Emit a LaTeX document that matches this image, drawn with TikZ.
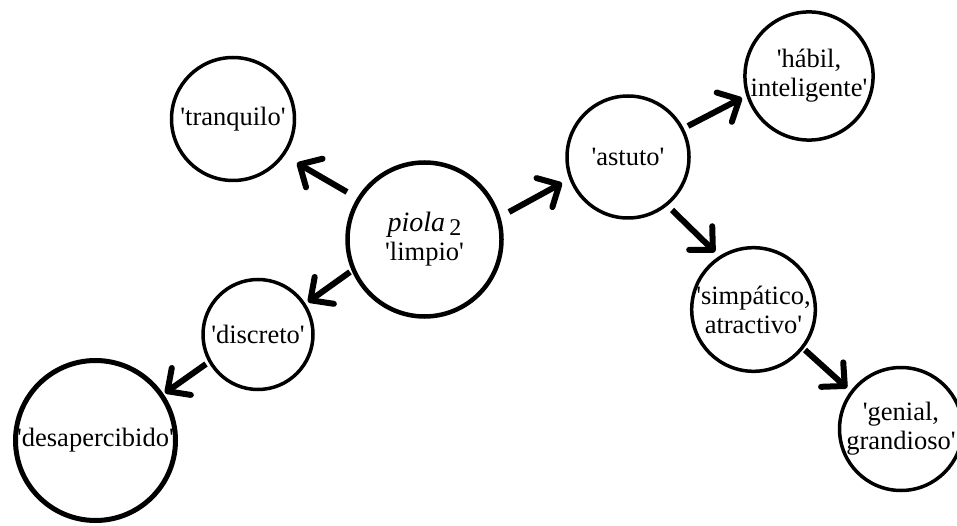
\documentclass[tikz,border=0pt]{standalone}
\usepackage{fontspec}
\setmainfont{Liberation Serif}
\usetikzlibrary{arrows.meta,calc}
\newcommand{\apos}{\textquotesingle}
\begin{document}
\begin{tikzpicture}[x=1pt,y=1pt,
  sense/.style={circle,draw,line width=3.5pt,minimum size=#1,inner sep=0pt,
    align=center,font=\fontsize{26.5}{29}\selectfont},
  heavy/.style={line width=4.5pt},
  arr/.style={line width=6pt,-{Straight Barb[length=17pt,width=33pt,round]}}]
\useasboundingbox (0,0) rectangle (957,525);
\clip (0,0) rectangle (957,525);

% word senses
\node[sense=154pt,heavy] (limpio) at (424.5,285.5)
  {{\fontsize{28}{29}\selectfont\textit{piola}}\,\raisebox{-4pt}{\fontsize{24}{24}\selectfont 2}\\\apos limpio\apos};
\node[sense=123pt] (tranq) at (233,406) {\apos tranquilo\apos};
\node[sense=110pt] (discreto) at (258,190.5) {\apos discreto\apos};
\node[sense=160pt,line width=5pt] (desap) at (95.5,84.5) {\apos desapercibido\apos};
\node[sense=122pt] (astuto) at (628,368) {\apos astuto\apos};
\node[sense=122pt] (habil) at (809,449) {\apos hábil,\\inteligente\apos};
\node[sense=121pt] (simp) at (753.5,215.5) {\apos simpático,\\atractivo\apos};
\node[sense=123pt] (genial) at (901,96) {\apos genial,\\grandioso\apos};

% semantic extensions
\draw[arr] ($(limpio)+(-77.5,47.5)$) -- ($(tranq)+(64,-44)$);
\draw[arr] ($(limpio)+(-74.5,-32.5)$) -- ($(discreto)+(50,32.5)$);
\draw[arr] ($(discreto)+(-52,-29.5)$) -- ($(desap)+(69.5,47.5)$);
\draw[arr] ($(limpio)+(84.5,27.5)$) -- ($(astuto)+(-66,-26)$);
\draw[arr] ($(astuto)+(60,31)$) -- ($(habil)+(-67,-22)$);
\draw[arr] ($(astuto)+(44,-53)$) -- ($(simp)+(-38.5,57.5)$);
\draw[arr] ($(simp)+(51.5,-40.5)$) -- ($(genial)+(-54,41)$);
\end{tikzpicture}
\end{document}
